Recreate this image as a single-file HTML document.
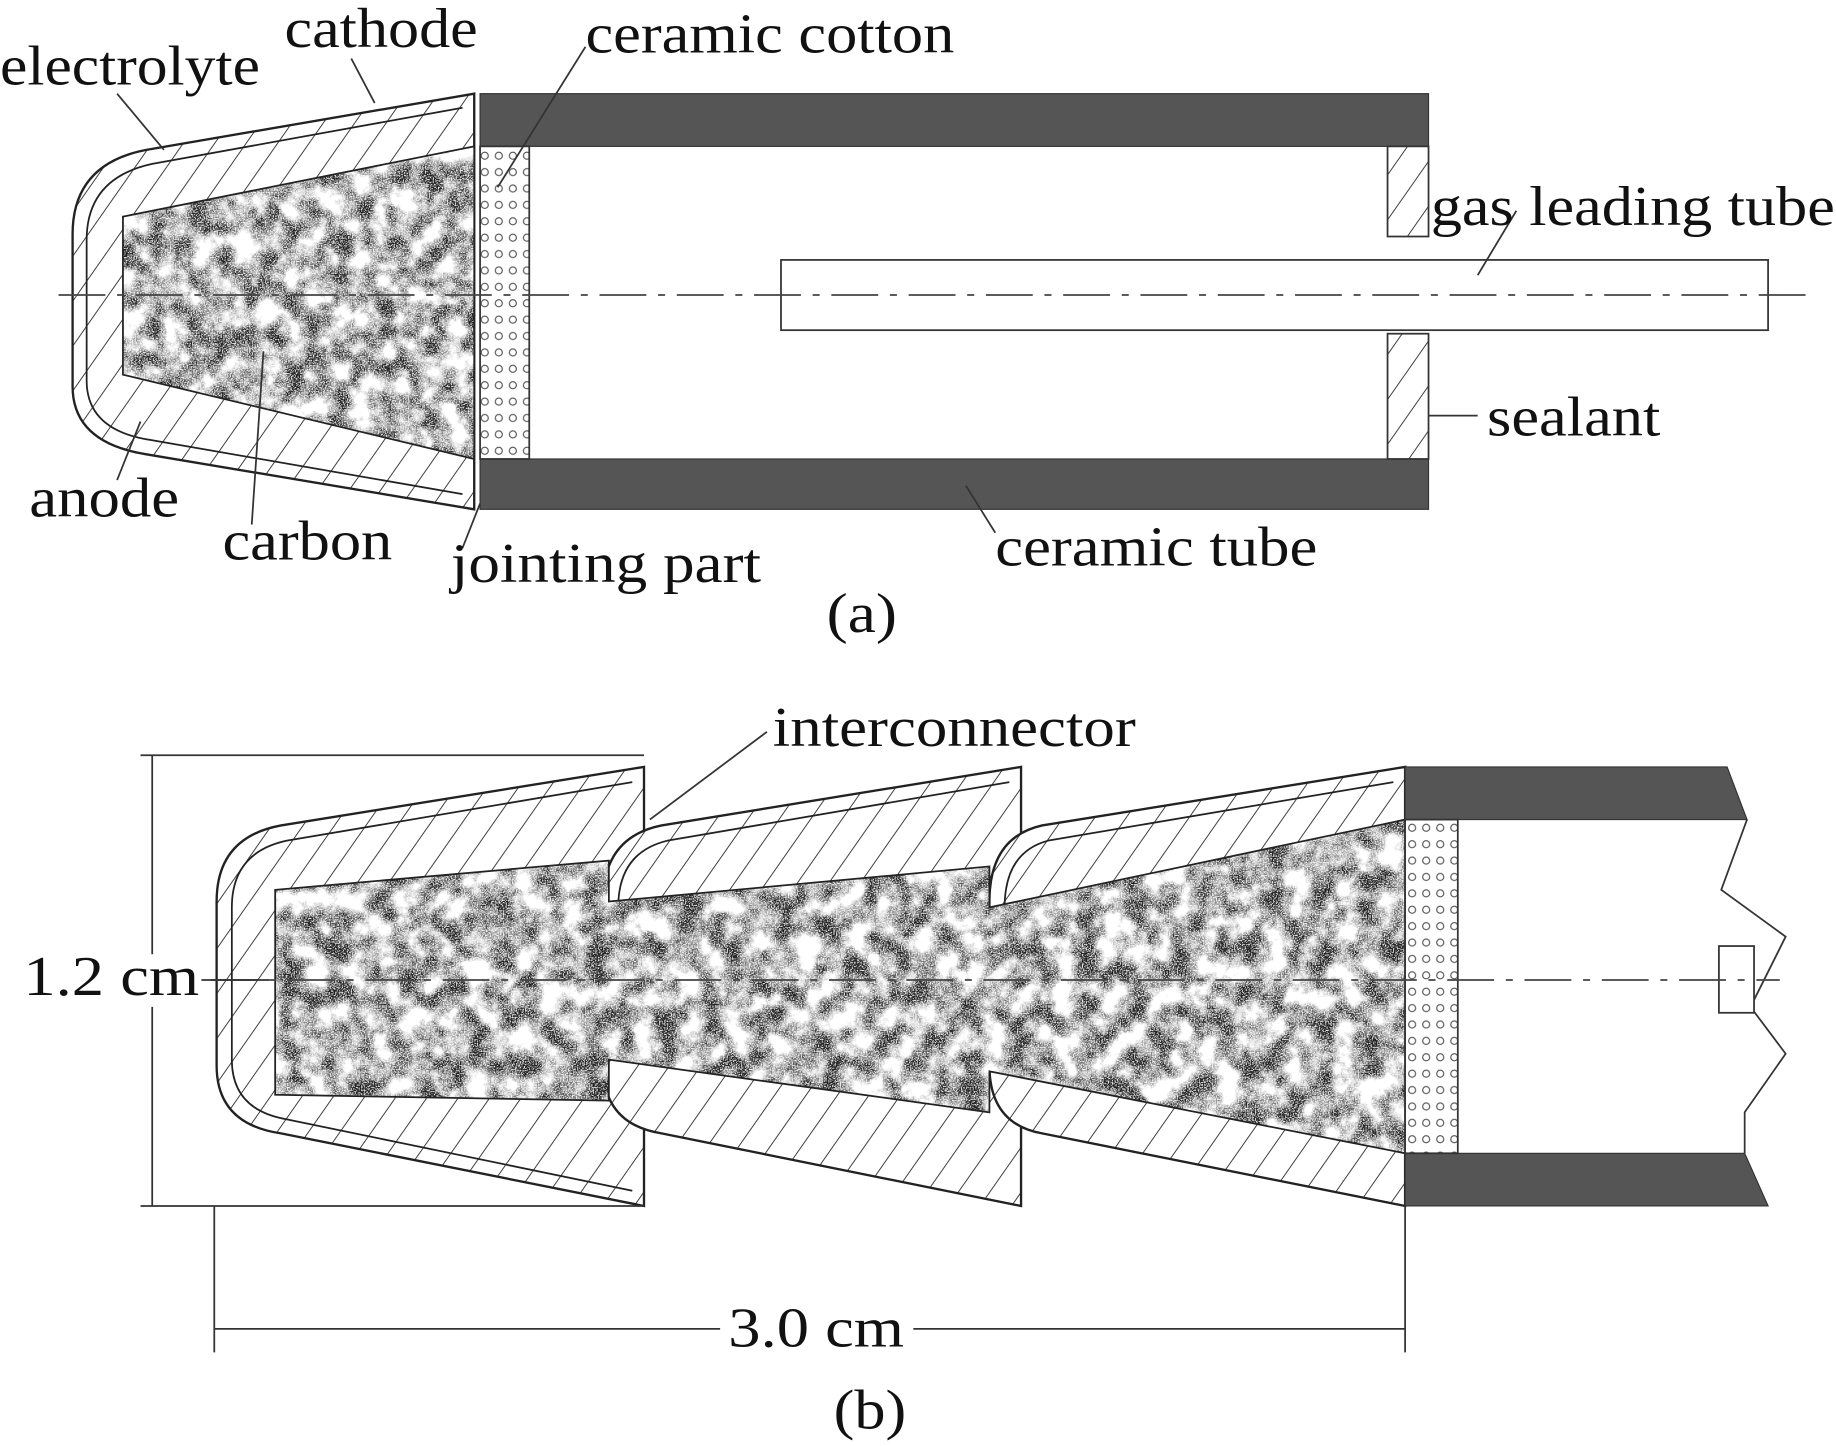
<!DOCTYPE html>
<html><head><meta charset="utf-8"><style>
html,body{margin:0;padding:0;background:#fff;}
svg{display:block;}
text{font-family:"Liberation Serif",serif;font-size:48px;fill:#111;}
</style></head><body>
<svg width="1836" height="1446" viewBox="0 0 1568 1235" preserveAspectRatio="none" xmlns="http://www.w3.org/2000/svg">
<defs>
<pattern id="hatch" width="22" height="22" patternUnits="userSpaceOnUse" patternTransform="rotate(35)">
<rect width="22" height="22" fill="#fff"/><line x1="0" y1="0" x2="0" y2="22" stroke="#333" stroke-width="1.6"/></pattern>
<pattern id="dots" width="12" height="14" patternUnits="userSpaceOnUse">
<rect width="12" height="14" fill="#fff"/><circle cx="6" cy="7" r="3" fill="none" stroke="#555" stroke-width="1"/></pattern>
<filter id="speck" x="0" y="0" width="1" height="1">
<feTurbulence type="fractalNoise" baseFrequency="0.05" numOctaves="5" seed="5" result="n"/>
<feColorMatrix in="n" type="matrix" values="0 0 0 0 0  0 0 0 0 0  0 0 0 0 0  0 0 0 -2.2 1.45" result="a"/>
<feTurbulence type="fractalNoise" baseFrequency="0.9" numOctaves="1" seed="2" result="m"/>
<feColorMatrix in="m" type="matrix" values="0 0 0 0 0  0 0 0 0 0  0 0 0 0 0  0 0 0 -4 2.6" result="b"/>
<feComposite in="a" in2="b" operator="arithmetic" k1="1.3" k2="0.15" k3="0" k4="0" result="c"/>
<feFlood flood-color="#222" result="f"/>
<feComposite in="f" in2="c" operator="in" result="d"/>
<feComposite in="d" in2="SourceGraphic" operator="in"/>
</filter>
</defs>

<!-- (a) -->
<path d="M405,80 L125,128 Q62,140 62,200 L62,330 Q62,378 125,388 L405,435 Z" fill="url(#hatch)" stroke="#222" stroke-width="2"/>
<path d="M395,92 L130,140 Q74,152 74,205 L74,325 Q74,368 130,376 L395,422" fill="none" stroke="#222" stroke-width="1.5"/>
<path d="M405,125 L105,185 L105,320 L405,392 Z" fill="#fff" stroke="#222" stroke-width="1.5"/>
<path d="M405,125 L105,185 L105,320 L405,392 Z" fill="#fff" filter="url(#speck)"/>
<rect x="410" y="80" width="810" height="45" fill="#555" stroke="#333"/>
<rect x="410" y="392" width="810" height="43" fill="#555" stroke="#333"/>
<rect x="410" y="125" width="42" height="267" fill="url(#dots)" stroke="#333" stroke-width="1.5"/>
<rect x="1185" y="125" width="35" height="77" fill="url(#hatch)" stroke="#333" stroke-width="1.5"/>
<rect x="1185" y="285" width="35" height="107" fill="url(#hatch)" stroke="#333" stroke-width="1.5"/>
<rect x="667" y="222" width="843" height="60" fill="#fff" stroke="#333" stroke-width="1.5"/>
<line x1="50" y1="252" x2="1545" y2="252" stroke="#444" stroke-width="1.5" stroke-dasharray="40,10,6,10"/>
<g stroke="#333" stroke-width="1.5" fill="none">
<line x1="100" y1="80" x2="140" y2="128"/>
<line x1="300" y1="50" x2="320" y2="88"/>
<line x1="500" y1="40" x2="425" y2="160"/>
<line x1="1295" y1="180" x2="1262" y2="235"/>
<line x1="1262" y1="355" x2="1220" y2="355"/>
<line x1="100" y1="410" x2="120" y2="360"/>
<line x1="215" y1="448" x2="225" y2="300"/>
<line x1="395" y1="468" x2="410" y2="430"/>
<line x1="850" y1="455" x2="825" y2="415"/>
</g>
<text x="0" y="72" textLength="222" lengthAdjust="spacingAndGlyphs">electrolyte</text>
<text x="243" y="40" textLength="165" lengthAdjust="spacingAndGlyphs">cathode</text>
<text x="500" y="45" textLength="315" lengthAdjust="spacingAndGlyphs">ceramic cotton</text>
<text x="1222" y="192" textLength="345" lengthAdjust="spacingAndGlyphs">gas leading tube</text>
<text x="1270" y="372" textLength="148" lengthAdjust="spacingAndGlyphs">sealant</text>
<text x="25" y="441" textLength="128" lengthAdjust="spacingAndGlyphs">anode</text>
<text x="190" y="478" textLength="145" lengthAdjust="spacingAndGlyphs">carbon</text>
<text x="385" y="497" textLength="265" lengthAdjust="spacingAndGlyphs">jointing part</text>
<text x="850" y="483" textLength="275" lengthAdjust="spacingAndGlyphs">ceramic tube</text>
<text x="706" y="540" textLength="60" lengthAdjust="spacingAndGlyphs">(a)</text>

<!-- (b) -->
<g stroke="#222" stroke-width="2">
<path d="M550,655 L240,705 Q185,715 185,770 L185,910 Q185,960 240,968 L550,1030 Z" fill="url(#hatch)"/>
<path d="M872,655 L565,705 Q515,715 515,770 L515,910 Q515,960 565,968 L872,1030 Z" fill="url(#hatch)"/>
<path d="M1200,655 L890,705 Q845,715 845,770 L845,910 Q845,960 890,968 L1200,1030 Z" fill="url(#hatch)"/>
</g>
<g fill="none" stroke="#222" stroke-width="1.5">
<path d="M540,668 L245,718 Q198,728 198,775 L198,905 Q198,948 245,956 L540,1017"/>
<path d="M862,668 L570,718 Q528,728 528,775"/>
<path d="M1190,668 L895,718 Q858,728 858,775"/>
</g>
<path d="M235,760 L520,735 L520,770 L845,740 L845,775 L1200,700 L1200,985 L845,915 L845,950 L520,905 L520,940 L235,935 Z" fill="#fff" stroke="#222" stroke-width="1.5"/>
<path d="M235,760 L520,735 L520,770 L845,740 L845,775 L1200,700 L1200,985 L845,915 L845,950 L520,905 L520,940 L235,935 Z" fill="#fff" filter="url(#speck)"/>
<path d="M1200,655 L1475,655 L1492,700 L1200,700 Z" fill="#555" stroke="#333"/>
<path d="M1200,985 L1490,985 L1510,1030 L1200,1030 Z" fill="#555" stroke="#333"/>
<rect x="1200" y="700" width="45" height="285" fill="url(#dots)" stroke="#333" stroke-width="1.5"/>
<polyline points="1492,700 1470,760 1525,800 1495,860 1525,900 1490,950 1490,985" fill="none" stroke="#333" stroke-width="1.5"/>
<rect x="1468" y="808" width="30" height="57" fill="#fff" stroke="#333" stroke-width="1.5"/>
<line x1="180" y1="837" x2="1520" y2="837" stroke="#444" stroke-width="1.5" stroke-dasharray="40,10,6,10"/>
<g stroke="#333" stroke-width="1.5" fill="none">
<line x1="120" y1="645" x2="550" y2="645"/>
<line x1="120" y1="1030" x2="550" y2="1030"/>
<line x1="130" y1="645" x2="130" y2="815"/>
<line x1="130" y1="860" x2="130" y2="1030"/>
<line x1="183" y1="1030" x2="183" y2="1155"/>
<line x1="1200" y1="1030" x2="1200" y2="1155"/>
<line x1="183" y1="1135" x2="615" y2="1135"/>
<line x1="780" y1="1135" x2="1200" y2="1135"/>
<line x1="172" y1="837" x2="230" y2="837"/>
<line x1="655" y1="625" x2="555" y2="700"/>
</g>
<text x="20" y="850" textLength="150" lengthAdjust="spacingAndGlyphs">1.2 cm</text>
<text x="622" y="1150" textLength="150" lengthAdjust="spacingAndGlyphs">3.0 cm</text>
<text x="660" y="637" textLength="310" lengthAdjust="spacingAndGlyphs">interconnector</text>
<text x="712" y="1220" textLength="62" lengthAdjust="spacingAndGlyphs">(b)</text>
</svg>
</body></html>
